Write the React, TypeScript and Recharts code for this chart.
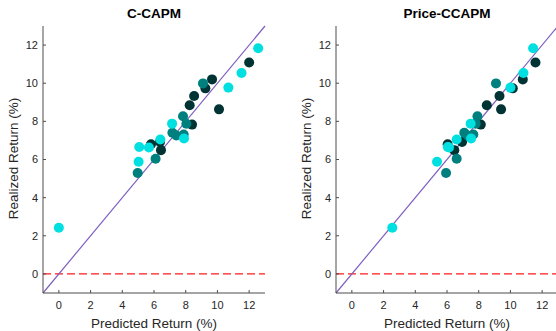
import { ScatterChart, Scatter, XAxis, YAxis, ReferenceLine } from 'recharts';

// realized returns by group (same for both models)
const darkRealized = [11.09, 8.63, 10.2, 9.73, 9.33, 8.84, 7.83, 6.92, 6.49, 6.8];
const tealRealized = [9.99, 8.27, 7.87, 7.4, 7.26, 7.31, 6.04, 5.29];
const cyanRealized = [2.42, 11.83, 10.54, 9.77, 7.88, 7.1, 7.05, 6.63, 6.66, 5.88];

// predicted returns, C-CAPM
const darkCcapm = [12.0, 10.1, 9.66, 9.24, 8.53, 8.25, 8.4, 6.38, 6.44, 5.81];
const tealCcapm = [9.09, 7.83, 8.04, 7.16, 7.41, 7.87, 6.1, 4.97];
const cyanCcapm = [0.0, 12.57, 11.52, 10.69, 7.14, 7.89, 6.4, 5.68, 5.07, 5.03];

// predicted returns, Price-CCAPM
const darkPrice = [11.58, 9.41, 10.78, 10.15, 9.31, 8.51, 8.13, 6.95, 6.46, 6.04];
const tealPrice = [9.09, 7.92, 7.81, 7.09, 7.3, 7.66, 6.61, 5.94];
const cyanPrice = [2.55, 11.43, 10.82, 10.0, 7.49, 7.52, 6.61, 6.13, 6.05, 5.37];

const ticks = [0, 2, 4, 6, 8, 10, 12];

const FONT = '"Liberation Sans", Arial, Helvetica, sans-serif';
const AXIS = '#4d4d4d';
const TEXT = '#262626';

const zip = (xs: number[], ys: number[]) => xs.map((x, i) => ({ x, y: ys[i] }));

const dot = (color: string) => (props: any) => (
  <circle cx={props.cx} cy={props.cy} r={5} fill={color} stroke="none" />
);

interface PanelProps {
  title: string;
  left: number;
  dark: number[];
  teal: number[];
  cyan: number[];
}

function Panel({ title, left, dark, teal, cyan }: PanelProps) {
  return (
    <div style={{ position: 'absolute', left, top: 0, width: 290, height: 331 }}>
      <ScatterChart width={290} height={331} margin={{ top: 26, right: 25, bottom: 0, left: 0 }}>
        <XAxis
          type="number"
          dataKey="x"
          domain={[-1, 13]}
          ticks={ticks}
          height={38}
          allowDataOverflow
          tickSize={-3}
          tickMargin={11}
          tick={{ fontSize: 11, fill: TEXT, fontFamily: FONT }}
          axisLine={{ stroke: AXIS }}
          tickLine={{ stroke: AXIS }}
        />
        <YAxis
          type="number"
          dataKey="y"
          domain={[-1, 13]}
          ticks={ticks}
          width={43}
          allowDataOverflow
          tickSize={-3}
          tickMargin={8}
          tick={{ fontSize: 11, fill: TEXT, fontFamily: FONT }}
          axisLine={{ stroke: AXIS }}
          tickLine={{ stroke: AXIS }}
        />
        <ReferenceLine y={0} stroke="#ff1a1a" strokeWidth={1.2} strokeDasharray="8 4" />
        <ReferenceLine
          segment={[{ x: -1, y: -1 }, { x: 13, y: 13 }]}
          stroke="#7e5fc0"
          strokeWidth={1.2}
        />
        <Scatter data={zip(dark, darkRealized)} shape={dot('#003333')} isAnimationActive={false} />
        <Scatter data={zip(teal, tealRealized)} shape={dot('#007f7f')} isAnimationActive={false} />
        <Scatter data={zip(cyan, cyanRealized)} shape={dot('#00e0e0')} isAnimationActive={false} />
      </ScatterChart>
      <div
        style={{
          position: 'absolute', left: 43, width: 222, top: 6, textAlign: 'center',
          fontFamily: FONT, fontWeight: 'bold', fontSize: 13.5, color: '#000',
        }}
      >
        {title}
      </div>
      <div
        style={{
          position: 'absolute', left: 43, width: 222, top: 316, textAlign: 'center',
          fontFamily: FONT, fontSize: 13.5, color: TEXT,
        }}
      >
        Predicted Return (%)
      </div>
      <div
        style={{
          position: 'absolute', left: 13, top: 160, width: 0, height: 0,
        }}
      >
        <div
          style={{
            position: 'absolute', left: -100, top: -9, width: 200, textAlign: 'center',
            transform: 'rotate(-90deg)', fontFamily: FONT, fontSize: 13.5, color: TEXT,
            whiteSpace: 'nowrap',
          }}
        >
          Realized Return (%)
        </div>
      </div>
    </div>
  );
}

export default function App() {
  return (
    <div
      style={{
        position: 'absolute', left: 0, top: 0, width: 556, height: 331,
        overflow: 'hidden', background: '#fff',
      }}
    >
      <Panel title="C-CAPM" left={0} dark={darkCcapm} teal={tealCcapm} cyan={cyanCcapm} />
      <Panel title="Price-CCAPM" left={293} dark={darkPrice} teal={tealPrice} cyan={cyanPrice} />
    </div>
  );
}
